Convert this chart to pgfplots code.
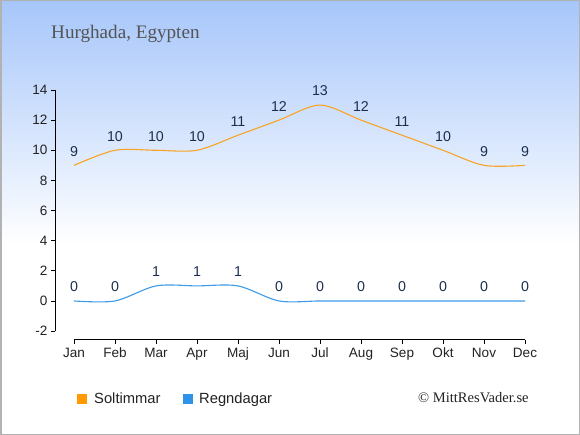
\documentclass[border=0pt]{standalone}
\usepackage{pgfplots}
\pgfplotsset{compat=1.18}
\usepackage{fontspec}
\setmainfont{Liberation Sans}
\newfontfamily\seriffont{Liberation Serif}
\definecolor{bgtop}{HTML}{A6C6FA}
\definecolor{sunc}{HTML}{F7A427}
\definecolor{sunsq}{HTML}{FF9A00}
\definecolor{rainc}{HTML}{3C9AE8}
\definecolor{rainsq}{HTML}{2F93EA}
\definecolor{lab}{HTML}{1C2E4E}
\definecolor{tickc}{HTML}{222222}
\begin{document}
\begin{tikzpicture}
\path[use as bounding box] (0,0) rectangle (580bp,435bp);
\fill[white] (0,0) rectangle (580bp,435bp);
\shade[top color=bgtop, bottom color=white] (0,190bp) rectangle (580bp,435bp);
\draw[gray!60, line width=1.5bp] (0.75bp,0.75bp) rectangle (579.25bp,434.25bp);
\begin{axis}[
  at={(55bp,95bp)}, anchor=south west, scale only axis,
  width=490.5bp, height=250bp,
  xmin=-0.463, xmax=11.5, ymin=-2.59, ymax=14,
  axis line style={draw=none},
  clip=false,
  xtick={0,...,11},
  xticklabels={Jan,Feb,Mar,Apr,Maj,Jun,Jul,Aug,Sep,Okt,Nov,Dec},
  ytick={-2,0,2,4,6,8,10,12,14},
  tick pos=left, tick align=outside,
  major tick length=4bp,
  tick style={black, line width=0.9bp},
  /pgf/number format/assume math mode=true,
  ticklabel style={font=\fontsize{13.6}{15}\selectfont, text=tickc},
  xticklabel style={yshift=-0.5bp},
  nodes near coords,
  nodes near coords style={font=\fontsize{14.3}{16}\selectfont, text=lab, anchor=south, inner sep=0pt, yshift=8.5bp},
]
\addplot[sunc, line width=1.1bp, smooth, tension=0.5] coordinates {
(0,9) (1,10) (2,10) (3,10) (4,11) (5,12) (6,13) (7,12) (8,11) (9,10) (10,9) (11,9)};
\addplot[rainc, line width=1.1bp, smooth, tension=0.5] coordinates {
(0,0) (1,0) (2,1) (3,1) (4,1) (5,0) (6,0) (7,0) (8,0) (9,0) (10,0) (11,0)};
\draw[black, line width=1bp] (axis cs:-0.463,-2) -- (axis cs:-0.463,14);
\draw[black, line width=1bp] (axis cs:0,-2.59) -- (axis cs:11,-2.59);
\end{axis}
\node[anchor=base west, inner sep=0pt, text=black!67, font=\seriffont\fontsize{19.2}{21}\selectfont] at (51bp,396.5bp) {Hurghada, Egypten};
\fill[sunsq] (77bp,31bp) rectangle (87bp,41bp);
\node[anchor=base west, inner sep=0pt, text=tickc, font=\fontsize{14.8}{16}\selectfont] at (94bp,32bp) {Soltimmar};
\fill[rainsq] (183bp,31bp) rectangle (193bp,41bp);
\node[anchor=base west, inner sep=0pt, text=tickc, font=\fontsize{14.8}{16}\selectfont] at (199bp,32bp) {Regndagar};
\node[anchor=base west, inner sep=0pt, text=tickc, font=\seriffont\fontsize{14.6}{16}\selectfont] at (418bp,33bp) {© MittResVader.se};
\end{tikzpicture}
\end{document}
